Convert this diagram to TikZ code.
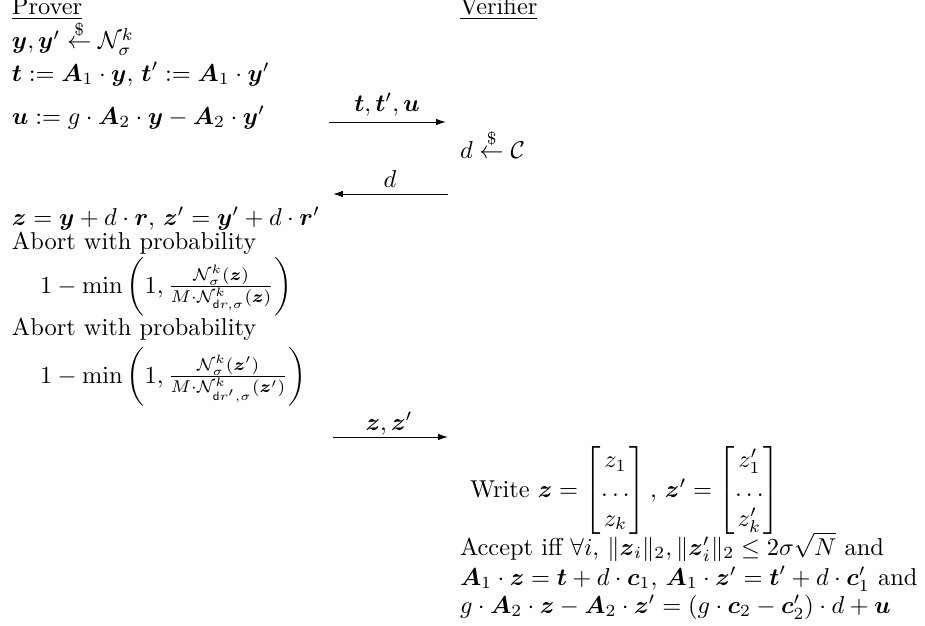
\documentclass[tikz,border=0pt]{standalone}
\usepackage{amsmath,amssymb}
\usetikzlibrary{arrows.meta}
\newcommand{\bv}[1]{\boldsymbol{#1}}
\newcommand{\smp}{\overset{\$}{\leftarrow}}
\tikzset{
  txt/.style={anchor=base west, inner sep=0pt, outer sep=0pt},
  lbl/.style={anchor=base, inner sep=0pt, outer sep=0pt},
  msg/.style={line width=0.4pt, -{Latex[length=4pt,width=2.6pt]}},
}
\begin{document}
\begin{tikzpicture}[x=0.4098pt, y=-0.4098pt]
\useasboundingbox (0,0) rectangle (925,625);
% headers
\node[txt] (prover) at (12,15) {\underline{Prover}};
\node[txt] (verifier) at (460,15) {\underline{Verifier}};
% prover lines
\node[txt] (p1) at (12,49) {$\bv{y},\bv{y}'\smp\mathcal{N}_\sigma^k$};
\node[txt] (p2) at (12,81) {$\bv{t}:=\bv{A}_1\cdot\bv{y},\,\bv{t}':=\bv{A}_1\cdot\bv{y}'$};
\node[txt] (p3) at (12,124) {$\bv{u}:=g\cdot\bv{A}_2\cdot\bv{y}-\bv{A}_2\cdot\bv{y}'$};
% msg 1
\coordinate (m1s) at (329,122);
\coordinate (m1e) at (446,122);
\draw[msg] (m1s) -- (m1e);
\node[lbl] (l1) at (387,112) {$\bv{t},\bv{t}',\bv{u}$};
% verifier sample
\node[txt] (v1) at (460,158) {$d\smp\mathcal{C}$};
% msg 2
\coordinate (m2s) at (448,194);
\coordinate (m2e) at (333,194);
\draw[msg] (m2s) -- (m2e);
\node[lbl] (l2) at (390,187) {$d$};
% prover response
\node[txt] (p4) at (12,225) {$\bv{z}=\bv{y}+d\cdot\bv{r},\,\bv{z}'=\bv{y}'+d\cdot\bv{r}'$};
\node[txt] (p5) at (12,249) {Abort with probability};
\node[txt] (p6) at (40,293) {$1-\min\,\biggl(1,\frac{\mathcal{N}_\sigma^k(\bv{z})}{M\cdot\mathcal{N}^k_{\mathsf{d}r,\sigma}(\bv{z})}\biggr)$};
\node[txt] (p7) at (12,335) {Abort with probability};
\node[txt] (p8) at (40,383) {$1-\min\,\biggl(1,\frac{\mathcal{N}_\sigma^k(\bv{z}')}{M\cdot\mathcal{N}^k_{\mathsf{d}r',\sigma}(\bv{z}')}\biggr)$};
% msg 3
\coordinate (m3s) at (333,437);
\coordinate (m3e) at (448,437);
\draw[msg] (m3s) -- (m3e);
\node[lbl] (l3) at (389,430) {$\bv{z},\bv{z}'$};
% verifier checks
\node[txt] (v2) at (470,497) {Write $\bv{z}=\begin{bmatrix}z_1\\ \dots\\ z_k\end{bmatrix},\,\bv{z}'=\begin{bmatrix}z_1'\\ \dots\\ z_k'\end{bmatrix}$};
\node[txt] (v3) at (460,555) {Accept iff $\forall i,\,\|\bv{z}_i\|_2,\|\bv{z}_i'\|_2\le 2\sigma\sqrt{N}$ and};
\node[txt] (v4) at (460,585) {$\bv{A}_1\cdot\bv{z}=\bv{t}+d\cdot\bv{c}_1,\,\bv{A}_1\cdot\bv{z}'=\bv{t}'+d\cdot\bv{c}_1'$ and};
\node[txt] (v5) at (460,613) {$g\cdot\bv{A}_2\cdot\bv{z}-\bv{A}_2\cdot\bv{z}'=(g\cdot\bv{c}_2-\bv{c}_2')\cdot d+\bv{u}$};
\end{tikzpicture}
\end{document}
